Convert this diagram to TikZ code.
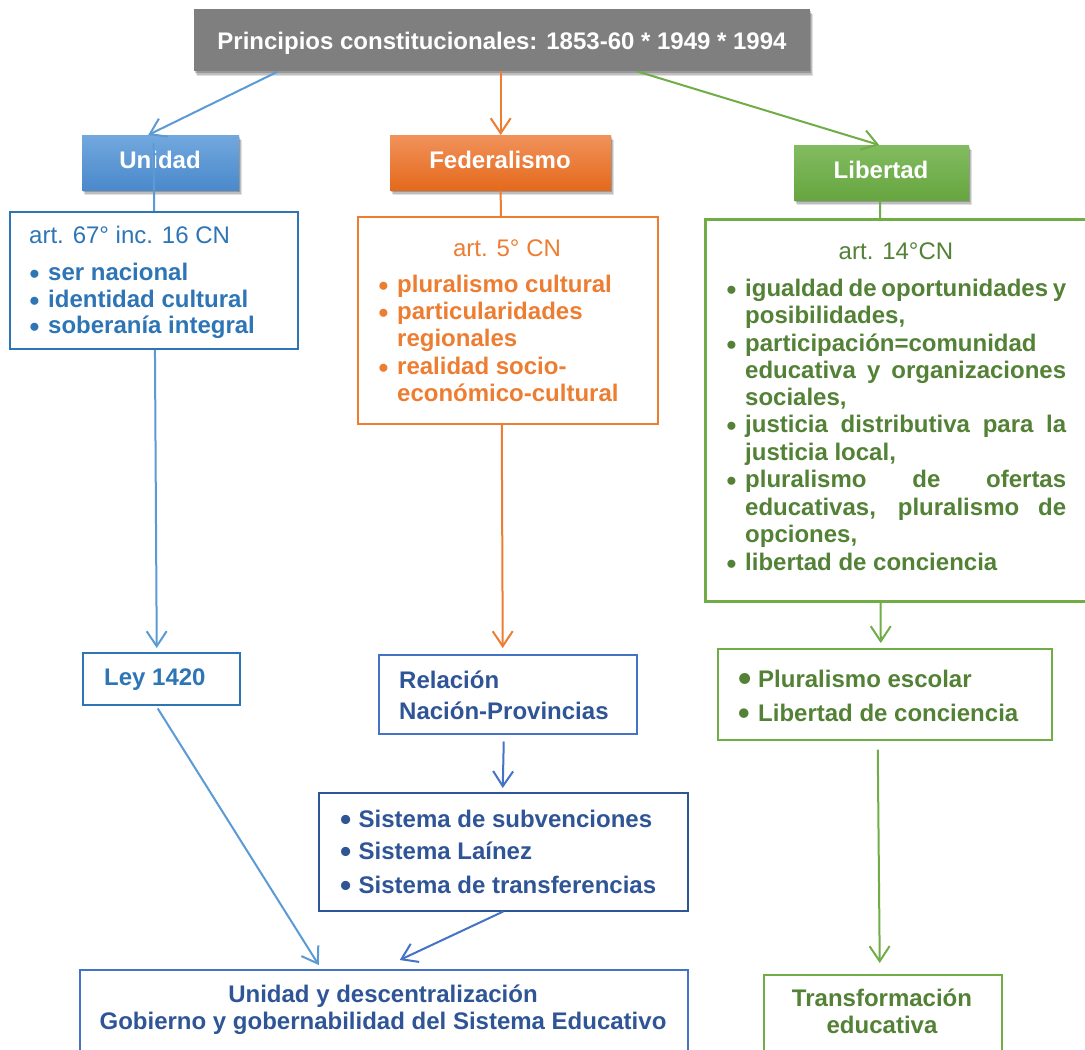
\documentclass[tikz,border=0pt]{standalone}
\usepackage{fontspec}
\setmainfont{Liberation Sans}
\usetikzlibrary{arrows.meta,shadows}
\definecolor{tgray}{HTML}{7F7F7F}
\definecolor{ublue}{HTML}{2E75B6}
\definecolor{nblue}{HTML}{2F5597}
\definecolor{lblue}{HTML}{5B9BD5}
\definecolor{mblue}{HTML}{4472C4}
\definecolor{ora}{HTML}{ED7D31}
\definecolor{gtext}{HTML}{538135}
\definecolor{gline}{HTML}{70AD47}
\definecolor{utop}{HTML}{72A8DE}
\definecolor{ubot}{HTML}{4A89CB}
\definecolor{otop}{HTML}{F1925A}
\definecolor{obot}{HTML}{E4691C}
\definecolor{gtop}{HTML}{82BC60}
\definecolor{gbot}{HTML}{66A53F}
\newcommand\bux[2]{\makebox[18.5pt][l]{\raisebox{#2}{\fontsize{#1}{#1}\selectfont\textbullet}}}
\newcommand\bu{\bux{28}{-3.3pt}}
\newcommand\bus{\bux{32}{-3.6pt}}
\begin{document}
\begin{tikzpicture}[x=1pt,y=-1pt,
  tr/.style={inner sep=0pt, font=\fontsize{24}{28}\selectfont},
  tb/.style={inner sep=0pt, font=\fontsize{24}{28}\selectfont\bfseries},
  hbox/.style={inner sep=0pt, anchor=north west, draw=none,
    drop shadow={shadow xshift=3pt,shadow yshift=-5pt,opacity=0.12,fill=black},
    drop shadow={shadow xshift=2pt,shadow yshift=-3.5pt,opacity=0.15,fill=black},
    drop shadow={shadow xshift=1pt,shadow yshift=-2pt,opacity=0.2,fill=black}},
  cbox/.style={inner sep=0pt, anchor=north west, fill=white, line width=1.5pt},
  arr/.style={line width=2pt, -{Straight Barb[length=15pt,width=20pt]}}]
\useasboundingbox (0,0) rectangle (1085,1050);
\fill[white] (0,0) rectangle (1085,1050);
\clip (0,0) rectangle (1085,1050);

% ---- top level
\node[hbox, fill=tgray, minimum width=616pt, minimum height=62pt] (title) at (194,9) {};
\node[tb, text=white, anchor=base] (ttlt) at (502,49) {Principios constitucionales: 1853-60 * 1949 * 1994};

\node[hbox, top color=utop, bottom color=ubot, minimum width=157pt, minimum height=55pt] (unidad) at (82,135) {};
\node[tb, text=white, anchor=base] (unidadt) at (160,168) {Unidad};
\node[hbox, top color=otop, bottom color=obot, minimum width=221pt, minimum height=55pt] (feder) at (390,135) {};
\node[tb, text=white, anchor=base] (federt) at (500,168) {Federalismo};
\node[hbox, top color=gtop, bottom color=gbot, minimum width=175pt, minimum height=55pt] (libert) at (794,145) {};
\node[tb, text=white, anchor=base] (libertt) at (881,178) {Libertad};

% ---- lower boxes of the three columns
\node[cbox, draw=ublue, minimum width=157pt, minimum height=52pt] (ley) at (82,652) {};
\node[tb, text=ublue, anchor=base west] (leyt) at (104,685) {Ley 1420};

\node[cbox, draw=mblue, minimum width=258pt, minimum height=79pt] (rel) at (378,654) {};
\node[tb, text=nblue, anchor=base west] (rel1) at (399,688) {Relación};
\node[tb, text=nblue, anchor=base west] (rel2) at (399,719) {Nación-Provincias};

\node[cbox, draw=gline, minimum width=334pt, minimum height=91pt] (plu) at (717,648) {};
\node[tb, text=gtext, anchor=base west] (p1) at (738,687) {\makebox[20pt][l]{\raisebox{-4pt}{\fontsize{38}{38}\selectfont\textbullet}}Pluralismo escolar};
\node[tb, text=gtext, anchor=base west] (p2) at (738,721) {\makebox[20pt][l]{\raisebox{-3pt}{\fontsize{33}{33}\selectfont\textbullet}}Libertad de conciencia};

% ---- arrows from title
\draw[arr, lblue] ([xshift=-224pt]title.south) -- ([xshift=-12.5pt]unidad.north);
\draw[arr, ora] (feder.north |- title.south) -- (feder.north);
\draw[arr, gline] ([xshift=135pt]title.south) -- ([xshift=-2.5pt]libert.north);

% ---- vertical lines (behind content boxes)
\draw[arr, lblue] ([xshift=-7pt,yshift=-8pt]unidad.north) -- ([xshift=-4.5pt,yshift=4pt]ley.north);
\draw[arr, ora] (feder.south) -- ([xshift=-5pt,yshift=6pt]rel.north);
\draw[arr, gline] ([xshift=-1.5pt]libert.south) -- ([xshift=-4pt,yshift=5pt]plu.north);

% ---- content boxes
\node[cbox, draw=ublue, minimum width=288pt, minimum height=137pt] (ucont) at (9,211) {};
\node[cbox, draw=ora, minimum width=300pt, minimum height=207pt] (fcont) at (357,216) {};
\node[cbox, draw=gline, line width=2.5pt, minimum width=420pt, minimum height=382pt] (lcont) at (704,218) {};

% Unidad content
\node[tr, text=ublue, anchor=base west] (u0) at (29,243) {art. 67° inc. 16 CN};
\node[tb, text=ublue, anchor=base west] (u1) at (29.5,280) {\bu ser nacional};
\node[tb, text=ublue, anchor=base west] (u2) at (29.5,307) {\bu identidad cultural};
\node[tb, text=ublue, anchor=base west] (u3) at (29.5,333) {\bu soberanía integral};

% Federalismo content
\node[tr, text=ora, anchor=base] (f0) at (507,256) {art. 5° CN};
\node[tb, text=ora, anchor=base west] (f1) at (378.5,292) {\bu pluralismo cultural};
\node[tb, text=ora, anchor=base west] (f2) at (378.5,319) {\bu particularidades};
\node[tb, text=ora, anchor=base west] (f3) at (397,346) {regionales};
\node[tb, text=ora, anchor=base west] (f4) at (378.5,374) {\bu realidad socio-};
\node[tb, text=ora, anchor=base west] (f5) at (397,401) {económico-cultural};

% Libertad content
\node[tr, text=gtext, anchor=base] (l0) at (896,259) {art. 14°CN};
\node[tb, text=gtext, anchor=base west] (l1) at (726.5,296) {\bu\makebox[321pt][s]{igualdad de oportunidades y}};
\node[tb, text=gtext, anchor=base west] (l2) at (745,323.5) {posibilidades,};
\node[tb, text=gtext, anchor=base west] (l3) at (726.5,351) {\bu participación=comunidad};
\node[tb, text=gtext, anchor=base west] (l4) at (745,378) {\makebox[321pt][s]{educativa y organizaciones}};
\node[tb, text=gtext, anchor=base west] (l5) at (745,405) {sociales,};
\node[tb, text=gtext, anchor=base west] (l6) at (726.5,432.5) {\bu\makebox[321pt][s]{justicia distributiva para la}};
\node[tb, text=gtext, anchor=base west] (l7) at (745,460) {justicia local,};
\node[tb, text=gtext, anchor=base west] (l8) at (726.5,487.5) {\bu\makebox[321pt][s]{pluralismo de ofertas}};
\node[tb, text=gtext, anchor=base west] (l9) at (745,515) {\makebox[321pt][s]{educativas, pluralismo de}};
\node[tb, text=gtext, anchor=base west] (l10) at (745,542.5) {opciones,};
\node[tb, text=gtext, anchor=base west] (l11) at (726.5,570) {\bu libertad de conciencia};

% ---- bottom boxes
\node[cbox, draw=nblue, minimum width=369pt, minimum height=118pt] (sis) at (318,792) {};
\node[tb, text=nblue, anchor=base west] (s1) at (340,827) {\bus Sistema de subvenciones};
\node[tb, text=nblue, anchor=base west] (s2) at (340,859) {\bus Sistema Laínez};
\node[tb, text=nblue, anchor=base west] (s3) at (340,893) {\bus Sistema de transferencias};

\node[cbox, draw=mblue, minimum width=608pt, minimum height=100pt] (bot) at (79,969) {};
\node[tb, text=nblue, anchor=base] (b1) at (383,1002) {Unidad y descentralización};
\node[tb, text=nblue, anchor=base] (b2) at (383,1029) {Gobierno y gobernabilidad del Sistema Educativo};

\node[cbox, draw=gline, minimum width=238pt, minimum height=100pt] (tra) at (763,974) {};
\node[tb, text=gtext, anchor=base] (t1) at (882,1006) {Transformación};
\node[tb, text=gtext, anchor=base] (t2) at (882,1033) {educativa};

% ---- lower connectors
\draw[arr, lblue] ([xshift=-3.5pt,yshift=-3pt]ley.south) -- ([xshift=-65pt,yshift=4pt]bot.north);
\draw[arr, mblue] ([xshift=-4pt,yshift=-7pt]rel.south) -- ([xshift=-0.5pt,yshift=4pt]sis.north);
\draw[arr, mblue] (sis.south) -- ([xshift=16pt,yshift=9pt]bot.north);
\draw[arr, gline] ([xshift=-7pt,yshift=-9pt]plu.south) -- ([xshift=-3pt,yshift=11pt]tra.north);
\end{tikzpicture}
\end{document}
